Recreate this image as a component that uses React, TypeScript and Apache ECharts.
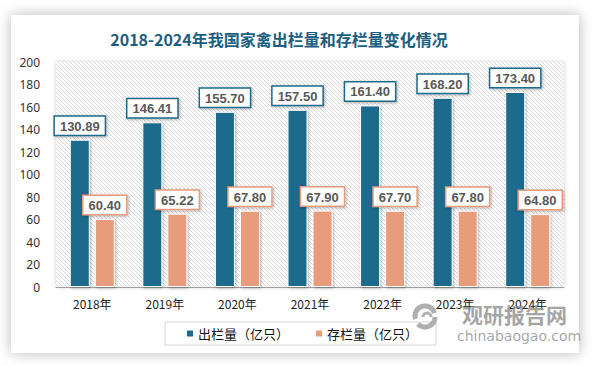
import React, { useEffect, useRef } from "react";
import * as echarts from "echarts";

const categories = ["2018年", "2019年", "2020年", "2021年", "2022年", "2023年", "2024年"];
const outValues = [130.89, 146.41, 155.7, 157.5, 161.4, 168.2, 173.4];
const stockValues = [60.4, 65.22, 67.8, 67.9, 67.7, 67.8, 64.8];
const seriesNames = ["出栏量（亿只）", "存栏量（亿只）"];
const titleText = "2018-2024年我国家禽出栏量和存栏量变化情况";

const BLUE = "#1D6A8C";
const SALMON = "#E89C7C";

function makeHatch(): string {
  const c = document.createElement("canvas");
  c.width = 4;
  c.height = 4;
  const ctx = c.getContext("2d")!;
  ctx.fillStyle = "#ffffff";
  ctx.fillRect(0, 0, 4, 4);
  ctx.strokeStyle = "#d9d9d9";
  ctx.lineWidth = 1;
  ctx.beginPath();
  ctx.moveTo(-1, -1);
  ctx.lineTo(5, 5);
  ctx.moveTo(-1, 3);
  ctx.lineTo(1, 5);
  ctx.moveTo(3, -1);
  ctx.lineTo(5, 1);
  ctx.stroke();
  return c.toDataURL();
}

export default function App() {
  const ref = useRef<HTMLDivElement>(null);
  useEffect(() => {
    if (!ref.current) return;
    const chart = echarts.init(ref.current, null, { renderer: "svg" });
    const hatch = makeHatch();
    const labelCfg = (color: string) => ({
      show: true,
      position: "top",
      distance: 5,
      formatter: (p: any) => Number(p.value).toFixed(2),
      backgroundColor: "#fff",
      borderColor: color,
      borderWidth: 1.5,
      padding: [3, 5, 2, 5],
      fontSize: 13,
      fontWeight: "bold",
      fontFamily: "Liberation Sans, Arial, sans-serif",
      color: "#595959",
      shadowBlur: 3,
      shadowColor: "rgba(0,0,0,0.3)",
      shadowOffsetX: 1,
      shadowOffsetY: 1,
    });
    chart.setOption({
      animation: false,
      backgroundColor: "#ffffff",
      graphic: [
        {
          type: "rect",
          z: -10,
          silent: true,
          shape: { x: 11, y: 15, width: 568, height: 338 },
          style: {
            fill: "#fff",
            shadowBlur: 14,
            shadowColor: "rgba(0,0,0,0.28)",
          },
        },
        {
          type: "text",
          x: 279,
          y: 39,
          style: {
            text: titleText,
            fill: "#1B5E80",
            font: "bold 16px 'Noto Sans CJK SC', sans-serif",
            textAlign: "center",
            textVerticalAlign: "middle",
          },
        },
        {
          type: "arc",
          silent: true,
          z: 100,
          shape: { cx: 425, cy: 316, r: 10, startAngle: Math.PI * 0.9, endAngle: Math.PI * 1.9 },
          style: { stroke: "rgba(150,150,150,0.75)", lineWidth: 5, fill: "none" },
        },
        {
          type: "arc",
          silent: true,
          z: 100,
          shape: { cx: 425, cy: 317, r: 10, startAngle: Math.PI * 0.0, endAngle: Math.PI * 0.75 },
          style: { stroke: "rgba(150,150,150,0.75)", lineWidth: 5, fill: "none" },
        },
        {
          type: "arc",
          silent: true,
          z: 100,
          shape: { cx: 427, cy: 317, r: 4, startAngle: Math.PI * 1.0, endAngle: Math.PI * 2.0 },
          style: { stroke: "rgba(150,150,150,0.75)", lineWidth: 3, fill: "none" },
        },
        {
          type: "text",
          silent: true,
          z: 100,
          x: 462,
          y: 314,
          style: {
            text: "观研报告网",
            fill: "rgba(140,140,140,0.8)",
            font: "bold 21px 'Noto Sans CJK SC', sans-serif",
            textVerticalAlign: "middle",
          },
        },
        {
          type: "text",
          silent: true,
          z: 100,
          x: 457,
          y: 336,
          style: {
            text: "chinabaogao.com",
            fill: "rgba(150,150,150,0.85)",
            font: "14px 'DejaVu Sans', sans-serif",
            textVerticalAlign: "middle",
          },
        },
      ],
      grid: {
        left: 56,
        right: 30,
        top: 62,
        bottom: 79,
        show: true,
        borderWidth: 0,
        backgroundColor: { image: hatch, repeat: "repeat" },
        shadowBlur: 4,
        shadowColor: "rgba(0,0,0,0.2)",
      },
      legend: {
        left: 165,
        top: 322,
        padding: [5, 18, 5, 20],
        borderColor: "#d6d6d6",
        borderWidth: 1,
        itemWidth: 8,
        itemHeight: 8,
        itemGap: 25,
        icon: "rect",
        textStyle: {
          fontSize: 13,
          color: "#111",
          fontFamily: "'Noto Sans CJK SC', sans-serif",
          padding: [0, 0, 0, -1],
        },
        data: seriesNames,
      },
      xAxis: {
        type: "category",
        data: categories,
        axisLine: { lineStyle: { color: "#a0a0a0", width: 1 } },
        axisTick: { show: false },
        axisLabel: {
          color: "#222",
          fontSize: 12,
          margin: 10,
          fontFamily: "'Noto Sans CJK SC', sans-serif",
        },
      },
      yAxis: {
        type: "value",
        min: 0,
        max: 200,
        interval: 20,
        splitLine: { show: false },
        axisLine: { show: false },
        axisTick: { show: false },
        axisLabel: {
          color: "#333",
          fontSize: 12,
          margin: 16,
          fontFamily: "'Noto Sans', sans-serif",
        },
      },
      series: [
        {
          name: seriesNames[0],
          type: "bar",
          data: outValues,
          barWidth: 20,
          barGap: "25%",
          itemStyle: {
            color: BLUE,
            borderColor: "#fff",
            borderWidth: 1,
            shadowBlur: 3,
            shadowColor: "rgba(0,0,0,0.3)",
            shadowOffsetX: 1,
            shadowOffsetY: 1,
          },
          label: labelCfg(BLUE),
        },
        {
          name: seriesNames[1],
          type: "bar",
          data: stockValues,
          barWidth: 20,
          itemStyle: {
            color: SALMON,
            borderColor: "#fff",
            borderWidth: 1,
            shadowBlur: 3,
            shadowColor: "rgba(0,0,0,0.3)",
            shadowOffsetX: 1,
            shadowOffsetY: 1,
          },
          label: labelCfg(SALMON),
        },
      ],
    });
    return () => chart.dispose();
  }, []);
  return (
    <div
      ref={ref}
      style={{ position: "fixed", left: 0, top: 0, width: 594, height: 366 }}
    />
  );
}
